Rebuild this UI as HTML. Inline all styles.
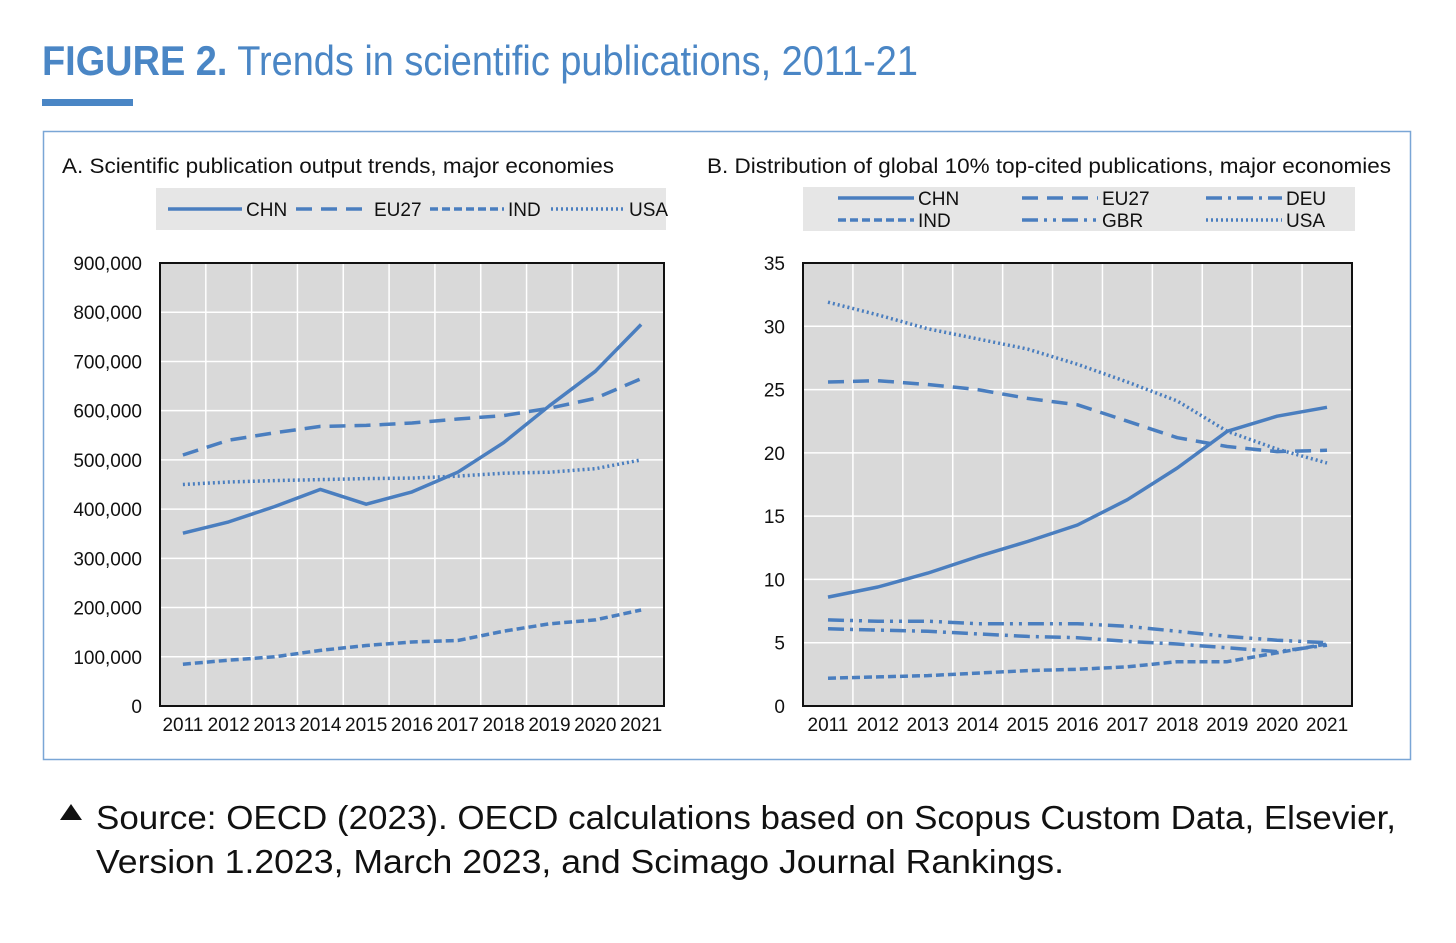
<!DOCTYPE html>
<html><head><meta charset="utf-8"><style>
body{margin:0;background:#fff;width:1456px;height:938px;overflow:hidden}
svg text{font-family:"Liberation Sans",sans-serif}
</style></head><body>
<svg id="svg" width="1456" height="938" xmlns="http://www.w3.org/2000/svg">
<text x="42" y="75" font-size="42" fill="#4a86c5" textLength="876" lengthAdjust="spacingAndGlyphs"><tspan font-weight="bold">FIGURE 2.</tspan> Trends in scientific publications, 2011-21</text>
<rect x="42" y="99" width="91" height="7" fill="#4a86c5"/>
<rect x="43.5" y="131.5" width="1367" height="628" fill="none" stroke="#7aa6d6" stroke-width="1.5"/>
<text x="62" y="173" font-size="21" fill="#111" textLength="552" lengthAdjust="spacingAndGlyphs">A. Scientific publication output trends, major economies</text>
<text x="707" y="173" font-size="21" fill="#111" textLength="684" lengthAdjust="spacingAndGlyphs">B. Distribution of global 10% top-cited publications, major economies</text>
<g id="A"></g><g id="B"></g>
<path d="M60 820 L82 820 L71 804 Z" fill="#111"/>
<text x="96" y="829" font-size="33" fill="#111" textLength="1300" lengthAdjust="spacingAndGlyphs">Source: OECD (2023). OECD calculations based on Scopus Custom Data, Elsevier,</text>
<text x="96" y="873" font-size="33" fill="#111" textLength="968" lengthAdjust="spacingAndGlyphs">Version 1.2023, March 2023, and Scimago Journal Rankings.</text>
</svg>
<script>
const years=["2011","2012","2013","2014","2015","2016","2017","2018","2019","2020","2021"];
const aChn=[351000,374000,405000,440000,410000,435000,475000,535000,610000,680000,775000];
const aEu=[510000,540000,555000,568000,570000,575000,583000,590000,605000,625000,665000];
const aUsa=[450000,455000,458000,460000,462000,463000,467000,473000,475000,482000,500000];
const aInd=[85000,93000,100000,113000,123000,130000,133000,152000,167000,175000,195000];
const aTicks=[0,100000,200000,300000,400000,500000,600000,700000,800000,900000];
const bChn=[8.6,9.4,10.5,11.8,13.0,14.3,16.3,18.8,21.7,22.9,23.6];
const bEu=[25.6,25.7,25.4,25.0,24.3,23.8,22.5,21.2,20.5,20.1,20.2];
const bUsa=[31.9,30.9,29.8,29.0,28.2,27.0,25.6,24.1,21.7,20.3,19.2];
const bDeu=[6.8,6.7,6.7,6.5,6.5,6.5,6.3,5.9,5.5,5.2,5.0];
const bGbr=[6.1,6.0,5.9,5.7,5.5,5.4,5.1,4.9,4.6,4.3,4.8];
const bInd=[2.2,2.3,2.4,2.6,2.8,2.9,3.1,3.5,3.5,4.2,4.9];
const bTicks=[0,5,10,15,20,25,30,35];
const NS="http://www.w3.org/2000/svg";
const C="#4a7ebf";
function mk(p,t,a){const e=document.createElementNS(NS,t);for(const k in a)e.setAttribute(k,a[k]);p.appendChild(e);return e;}
const styles={solid:"",dash:"16 9",shortdash:"8 4",dot:"2 3",dashdot:"16 6 3 6",dashdotdot:"16 6 3 6 3 6"};
function panel(g,x0,x1,y0,y1,max,ticks,fmt,series,pre){
  const bg=mk(g,"rect",{x:x0,y:y0,width:x1-x0,height:y1-y0,fill:"#d9d9d9"});
  
  
  const cw=(x1-x0)/years.length;
  const X=i=>x0+cw*(i+0.5), Y=v=>y1-(y1-y0)*v/max;
  for(let i=1;i<years.length;i++){mk(g,"line",{x1:x0+cw*i,x2:x0+cw*i,y1:y0,y2:y1,stroke:"#fff","stroke-width":1.5});}
  ticks.forEach(t=>{const y=Y(t);mk(g,"line",{x1:x0,x2:x1,y1:y,y2:y,stroke:"#fff","stroke-width":1.5});
    const tx=mk(g,"text",{x:x0-18,y:y+7,"font-size":19,"text-anchor":"end",fill:"#111"});tx.textContent=fmt(t);
    
    });
  years.forEach((yr,i)=>{const tx=mk(g,"text",{x:X(i),y:y1+25,"font-size":19,"text-anchor":"middle",fill:"#111"});tx.textContent=yr;
    
    });
  series.forEach(s=>{const d=s.v.map((v,i)=>(i?"L":"M")+X(i).toFixed(1)+" "+Y(v).toFixed(1)).join(" ");
    const p=mk(g,"path",{d,fill:"none",stroke:C,"stroke-width":3.5,"stroke-dasharray":styles[s.st],"stroke-linejoin":"round"});
    
    });
  const fr=mk(g,"rect",{x:x0,y:y0,width:x1-x0,height:y1-y0,fill:"none",stroke:"#111","stroke-width":2});
  
  
}
function legend(g,items,pre){items.forEach(it=>{
  mk(g,"line",{x1:it.x,x2:it.x+it.w,y1:it.y-7,y2:it.y-7,stroke:C,"stroke-width":3.5,"stroke-dasharray":styles[it.st]});
  const t=mk(g,"text",{x:it.x+it.w+4,y:it.y,"font-size":19,fill:"#111"});t.textContent=it.n;
  
  });}
const A=document.getElementById("A"),B=document.getElementById("B");
let r=mk(A,"rect",{x:156,y:188,width:510,height:42,fill:"#e6e6e6"});


legend(A,[{n:"CHN",st:"solid",x:168,y:216,w:74},{n:"EU27",st:"dash",x:296,y:216,w:74},{n:"IND",st:"shortdash",x:430,y:216,w:74},{n:"USA",st:"dot",x:551,y:216,w:74}],"panel-a");
panel(A,160,664,263,706,900000,aTicks,t=>t?t.toLocaleString("en-US"):"0",
 [{n:"CHN",v:aChn,st:"solid"},{n:"EU27",v:aEu,st:"dash"},{n:"USA",v:aUsa,st:"dot"},{n:"IND",v:aInd,st:"shortdash"}],"panel-a");
r=mk(B,"rect",{x:803,y:187,width:552,height:44,fill:"#e6e6e6"});


legend(B,[{n:"CHN",st:"solid",x:838,y:205,w:76},{n:"EU27",st:"dash",x:1022,y:205,w:76},{n:"DEU",st:"dashdot",x:1206,y:205,w:76},
 {n:"IND",st:"shortdash",x:838,y:227,w:76},{n:"GBR",st:"dashdotdot",x:1022,y:227,w:76},{n:"USA",st:"dot",x:1206,y:227,w:76}],"panel-b");
panel(B,803,1352,263,706,35,bTicks,t=>String(t),
 [{n:"CHN",v:bChn,st:"solid"},{n:"EU27",v:bEu,st:"dash"},{n:"USA",v:bUsa,st:"dot"},{n:"DEU",v:bDeu,st:"dashdotdot"},{n:"GBR",v:bGbr,st:"dashdot"},{n:"IND",v:bInd,st:"shortdash"}],"panel-b");
</script>
</body></html>
